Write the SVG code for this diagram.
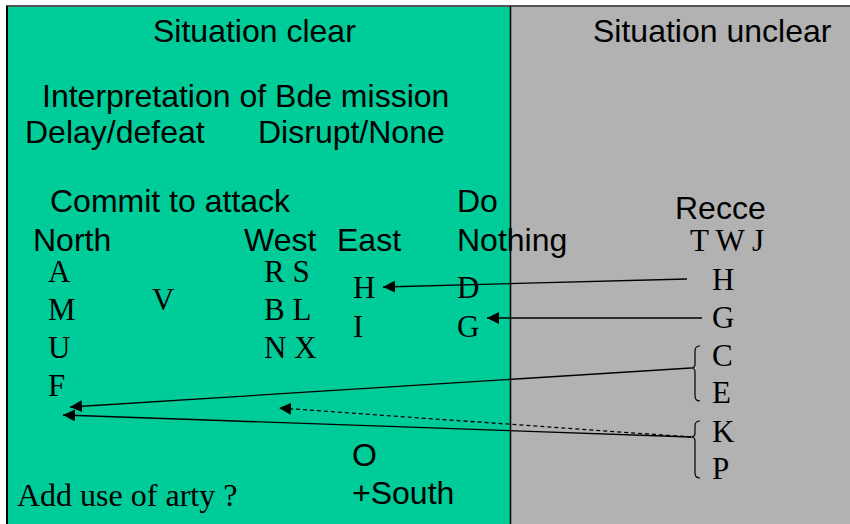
<svg xmlns="http://www.w3.org/2000/svg" width="850" height="524" viewBox="0 0 850 524">
<defs>
<style>
.a{font-family:"Liberation Sans",Arial,sans-serif;font-size:32px;fill:#000}
.t{font-family:"Liberation Serif","Times New Roman",serif;font-size:31px;fill:#000}
.ln{stroke:#000;stroke-width:1.3;fill:none}
.br{stroke:#000;stroke-width:1.2;fill:none}
</style>
<marker id="ah" markerUnits="userSpaceOnUse" markerWidth="14" markerHeight="12" refX="12" refY="6" orient="auto">
<path d="M0,0 L12,6 L0,12 Z" fill="#000"/>
</marker>
</defs>
<rect x="0" y="0" width="850" height="524" fill="#fff"/>
<g id="panels">
<rect x="7" y="7" width="504" height="517" fill="#00CC99"/>
<rect x="511" y="7" width="339" height="517" fill="#B2B2B2"/>
<line x1="6" y1="6" x2="850" y2="6" stroke="#555" stroke-width="2"/>
<line x1="7" y1="6" x2="7" y2="524" stroke="#000" stroke-width="2"/>
<line x1="510.5" y1="6" x2="510.5" y2="524" stroke="#000" stroke-width="1.5"/>
</g>
<g id="headers">
<text class="a" x="153" y="42">Situation clear</text>
<text class="a" x="593" y="42">Situation unclear</text>
<text class="a" x="42" y="107">Interpretation of Bde mission</text>
<text class="a" x="25" y="143">Delay/defeat</text>
<text class="a" x="258" y="143">Disrupt/None</text>
</g>
<g id="commit">
<text class="a" x="50" y="212">Commit to attack</text>
<text class="a" x="33" y="251">North</text>
<text class="a" x="244" y="251">West</text>
<text class="a" x="337" y="251">East</text>
<text class="t" x="48" y="282">A</text>
<text class="t" x="48" y="320">M</text>
<text class="t" x="48" y="358">U</text>
<text class="t" x="48" y="396">F</text>
<text class="t" x="152" y="310">V</text>
<text class="t" x="264" y="282">R S</text>
<text class="t" x="264" y="320">B L</text>
<text class="t" x="264" y="358">N X</text>
<text class="t" x="353" y="298">H</text>
<text class="t" x="353" y="337">I</text>
<text class="a" x="352" y="466">O</text>
<text class="a" x="352" y="504">+South</text>
<text class="t" x="17" y="506" style="font-size:32px">Add use of arty ?</text>
</g>
<g id="donothing">
<text class="a" x="457" y="212">Do</text>
<text class="a" x="457" y="251">Nothing</text>
<text class="t" x="457" y="298">D</text>
<text class="t" x="457" y="337">G</text>
</g>
<g id="recce">
<text class="a" x="675" y="219">Recce</text>
<text class="t" x="690" y="251">T W J</text>
<text class="t" x="712" y="290">H</text>
<text class="t" x="712" y="328">G</text>
<text class="t" x="712" y="366">C</text>
<text class="t" x="712" y="403">E</text>
<text class="t" x="712" y="442">K</text>
<text class="t" x="712" y="479">P</text>
<path class="br" d="M700,346 Q695,346 695,351 L695,364 Q695,368 691,368 Q695,368 695,372 L695,396 Q695,401 700,401"/>
<path class="br" d="M700,421 Q695,421 695,426 L695,433 Q695,437 691,437 Q695,437 695,441 L695,473 Q695,478 700,478"/>
</g>
<g id="connectors">
<line class="ln" x1="687" y1="279" x2="383" y2="287" marker-end="url(#ah)"/>
<line class="ln" x1="702" y1="318" x2="487" y2="318" marker-end="url(#ah)"/>
<line class="ln" x1="691" y1="368" x2="70" y2="407" marker-end="url(#ah)"/>
<line class="ln" x1="691" y1="437" x2="63" y2="415" marker-end="url(#ah)"/>
<line class="ln" x1="691" y1="437" x2="279" y2="408" stroke-dasharray="4,3" marker-end="url(#ah)"/>
</g>
</svg>
